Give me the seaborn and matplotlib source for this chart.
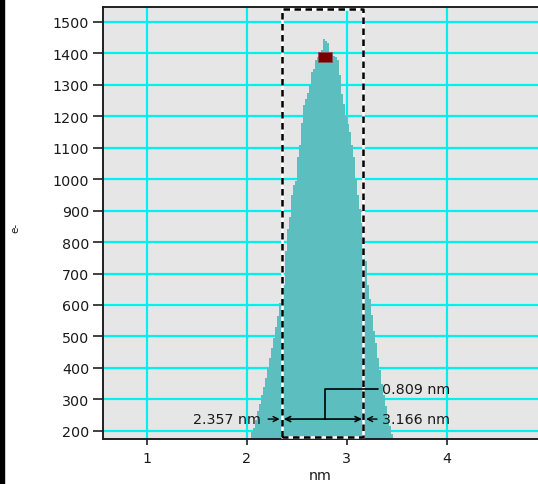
import numpy as np
import pandas as pd
import matplotlib
matplotlib.use("Agg")
import matplotlib.pyplot as plt
from matplotlib.patches import Rectangle
import seaborn as sns

# Line-profile histogram: counts (e-) per 0.02 nm bin
bin_start = 2.04
bin_width = 0.02
counts = [195, 210, 235, 262, 285, 312, 340, 368, 398, 430,
          462, 495, 530, 565, 605, 648, 665, 770, 840, 880,
          950, 980, 995, 1070, 1110, 1180, 1236, 1255, 1275, 1300,
          1342, 1350, 1380, 1390, 1398, 1410, 1447, 1440, 1432, 1405,
          1396, 1393, 1390, 1380, 1330, 1270, 1240, 1200, 1175, 1150,
          1110, 1070, 1000, 950, 905, 860, 790, 740, 662, 620,
          568, 518, 478, 430, 392, 350, 315, 280, 240, 215, 190]

# Measurement cursors
left_cursor = 2.357
right_cursor = 3.166
width_value = 0.809
peak_x = 2.78
peak_y = 1390

x_ticks = [1, 2, 3, 4]
y_ticks = list(range(200, 1501, 100))

n_bins = len(counts)
centers = bin_start + bin_width * (np.arange(n_bins) + 0.5)
df = pd.DataFrame({"nm": centers, "e": counts})

sns.set_theme(style="ticks", rc={
    "axes.facecolor": "#e6e6e6",
    "figure.facecolor": "white",
    "axes.edgecolor": "#202020",
    "axes.linewidth": 1.4,
    "grid.color": "#00f0f0",
    "grid.linewidth": 1.6,
    "xtick.color": "#202020",
    "ytick.color": "#202020",
})
plt.rcParams["font.family"] = ["DejaVu Sans"]

FS = 10.3

fig = plt.figure(figsize=(5.38, 4.85), dpi=100)
ax = fig.add_axes([103 / 538, 45 / 485, 435 / 538, 432 / 485])

sns.histplot(data=df, x="nm", weights="e", bins=n_bins,
             binrange=(bin_start, bin_start + n_bins * bin_width),
             element="step", fill=True, color="#5cbebe", alpha=1.0,
             linewidth=0, ax=ax)

ax.set_xlim(0.563, 4.913)
ax.set_ylim(173.6, 1547.7)
ax.set_xticks(x_ticks)
ax.set_xticklabels([str(t) for t in x_ticks])
ax.set_yticks(y_ticks)
ax.set_yticklabels([str(t) for t in y_ticks])
ax.set_axisbelow(True)
ax.grid(True)
ax.spines["right"].set_visible(False)
ax.tick_params(axis="y", length=7, width=1.2, pad=3, labelsize=FS, labelcolor="#1a1a1a")
ax.tick_params(axis="x", length=4, width=1.2, pad=5, labelsize=FS, labelcolor="#1a1a1a")

ax.set_xlabel("nm", fontsize=FS, color="#1a1a1a")
ax.xaxis.set_label_coords(0.5, -0.068)
ax.set_ylabel("e-", fontsize=7.5, color="#1a1a1a")
ax.yaxis.set_label_coords(-0.19, 0.49)

# Cursor box (white line under black dashes)
box_bottom, box_top = 180, 1541
bx = [left_cursor, left_cursor, right_cursor, right_cursor, left_cursor]
by = [box_bottom, box_top, box_top, box_bottom, box_bottom]
ax.plot(bx, by, color="white", lw=1.8, zorder=4)
ax.plot(bx, by, color="black", lw=1.8, ls=(0, (2.6, 1.8)), zorder=5)

# Peak marker
rect_marker = [(-1.4, -1), (1.4, -1), (1.4, 1), (-1.4, 1), (-1.4, -1)]
ax.plot([peak_x], [peak_y], marker=rect_marker, ms=10, color="#7a0000",
        mec="#8a5050", mew=0.6, zorder=6)

# Width arrow between cursors
arrow_y = 237
bracket_y = 333
ax.annotate("", xy=(left_cursor, arrow_y), xytext=(right_cursor, arrow_y),
            arrowprops=dict(arrowstyle="<->", color="black", lw=1.2,
                            shrinkA=1, shrinkB=1, mutation_scale=9), zorder=7)
ax.annotate(f"{left_cursor:.3f} nm", xy=(left_cursor, arrow_y),
            xytext=(2.14, arrow_y), ha="right", va="center", fontsize=FS,
            color="#1a1a1a",
            arrowprops=dict(arrowstyle="->", color="black", lw=1.0,
                            shrinkA=3, shrinkB=2, mutation_scale=9), zorder=7)
ax.annotate(f"{right_cursor:.3f} nm", xy=(right_cursor, arrow_y),
            xytext=(3.35, arrow_y), ha="left", va="center", fontsize=FS,
            color="#1a1a1a",
            arrowprops=dict(arrowstyle="->", color="black", lw=1.0,
                            shrinkA=1, shrinkB=2, mutation_scale=9), zorder=7)

# Bracket to the width readout
ax.plot([peak_x, peak_x, 3.31], [arrow_y, bracket_y, bracket_y],
        color="black", lw=1.2, zorder=7)
ax.text(3.35, bracket_y, f"{width_value:.3f} nm", ha="left", va="center",
        fontsize=FS, color="#1a1a1a", zorder=7)

# Dark window border on the left edge
fig.patches.append(Rectangle((0, 0), 4 / 538, 1, transform=fig.transFigure,
                             color="black", zorder=10))

fig.savefig("out.png", dpi=100)
